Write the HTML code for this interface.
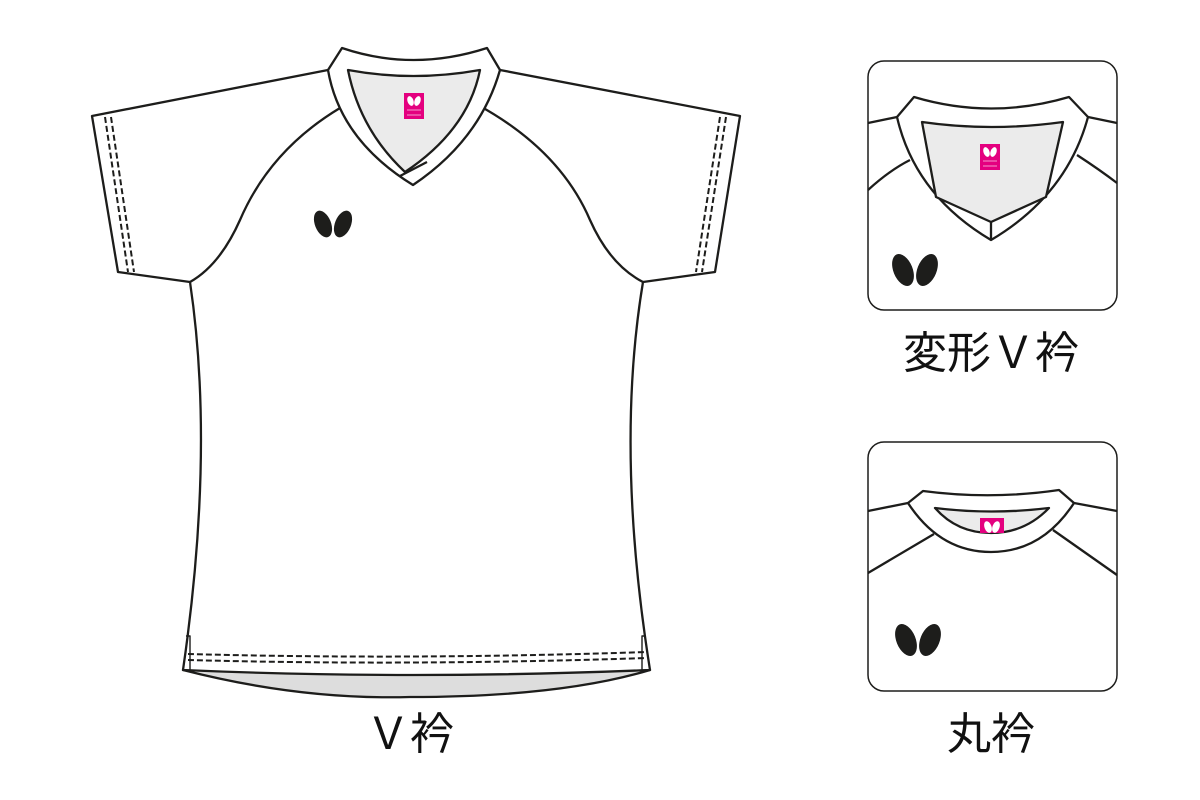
<!DOCTYPE html>
<html><head><meta charset="utf-8"><style>
body{margin:0;background:#fff}
svg{display:block}
text{font-family:"Liberation Sans","Noto Sans CJK JP",sans-serif;font-size:44px;fill:#111}
</style></head><body>
<svg width="1200" height="800" viewBox="0 0 1200 800" xmlns="http://www.w3.org/2000/svg">
<defs>
<g id="logo"><ellipse cx="-10" cy="0" rx="8" ry="14" transform="rotate(-22 -10 0)" fill="#1d1d1b"/><ellipse cx="10" cy="0" rx="8" ry="14" transform="rotate(22 10 0)" fill="#1d1d1b"/></g>
<g id="tag"><rect x="0" y="0" width="20" height="26" fill="#e4007f"/><ellipse cx="6.5" cy="8" rx="3" ry="5" transform="rotate(-20 6.5 8)" fill="#fff"/><ellipse cx="13.5" cy="8" rx="3" ry="5" transform="rotate(20 13.5 8)" fill="#fff"/><line x1="3" y1="17" x2="17" y2="17" stroke="#fff" stroke-width="0.6"/><line x1="3" y1="22" x2="17" y2="22" stroke="#fff" stroke-width="0.6"/></g>
</defs>
<g fill="none" stroke="#1d1d1b" stroke-width="2.3" stroke-linejoin="round">
<path d="M183,670 Q300,700 410,697 Q560,697 650,670 Z" fill="#ddd"/>
<path d="M328,70 L92,116 L118,272 L190,282 Q215,450 183,670 Q410,680 650,670 Q615,450 643,282 L715,272 L740,116 L500,70 Z" fill="#fff"/>
<path d="M340,108 Q270,150 240,220 Q220,265 190,282"/>
<path d="M478,105 Q560,150 590,220 Q610,265 643,282"/>
<path d="M342,48 L328,70 Q340,140 413,185 Q480,140 500,70 L487,48 Q413,72 342,48 Z" fill="#fff"/>
<path d="M348,70 Q413,82 480,70 Q468,130 405,172 Q360,130 348,70 Z" fill="#ebebeb"/>
<path d="M400,176 L427,162"/>
<g stroke-width="2" stroke-dasharray="6,3">
<path d="M105,117 L128,272"/><path d="M111,117 L134,272"/>
<path d="M726,117 L702,272"/><path d="M720,117 L696,272"/>
<path d="M188,654 Q410,660 646,652"/><path d="M188,660 Q410,666 646,658"/>
</g>
<path d="M186,636 L190,636 L190,670" stroke-width="1.4"/>
<path d="M646,636 L642,636 L642,670" stroke-width="1.4"/>
<rect x="868" y="61" width="249" height="249" rx="16" fill="#fff" stroke-width="1.5"/>
<path d="M868,123 L897,117 M1088,117 L1117,123"/>
<path d="M868,190 Q890,170 910,160 M1077,155 Q1100,170 1117,183"/>
<path d="M914,97 L897,117 Q915,195 991,240 Q1067,195 1088,117 L1069,97 Q991,120 914,97 Z" fill="#fff"/>
<path d="M922,122 Q991,132 1063,122 L1046,197 L991,222 L936,197 Z" fill="#ebebeb"/>
<path d="M991,222 L991,240"/>
<rect x="868" y="442" width="249" height="249" rx="16" fill="#fff" stroke-width="1.5"/>
<path d="M868,511 L908,503 M1074,503 L1117,511"/>
<path d="M868,573 L934,534 M1053,530 L1117,575"/>
<path d="M923,491 L908,503 Q940,552 991,552 Q1042,552 1074,503 L1059,490 Q991,500 923,491 Z" fill="#fff"/>
<path d="M935,508 Q991,515 1049,508 Q1025,533 991,533 Q957,533 935,508 Z" fill="#ebebeb"/>
</g>
<use href="#tag" x="404" y="93"/>
<use href="#tag" x="980" y="144"/>
<svg x="980" y="518" width="24" height="15" overflow="hidden"><rect width="24" height="26" fill="#e4007f"/><ellipse cx="8" cy="9" rx="3.5" ry="6" transform="rotate(-20 8 9)" fill="#fff"/><ellipse cx="16" cy="9" rx="3.5" ry="6" transform="rotate(20 16 9)" fill="#fff"/></svg>
<use href="#logo" x="333" y="224"/>
<use href="#logo" transform="translate(915,270) scale(1.2)"/>
<use href="#logo" transform="translate(918,640) scale(1.2)"/>
<text x="410" y="749" text-anchor="middle">Ｖ衿</text>
<text x="991" y="368" text-anchor="middle">変形Ｖ衿</text>
<text x="991" y="749" text-anchor="middle">丸衿</text>
</svg>
</body></html>
